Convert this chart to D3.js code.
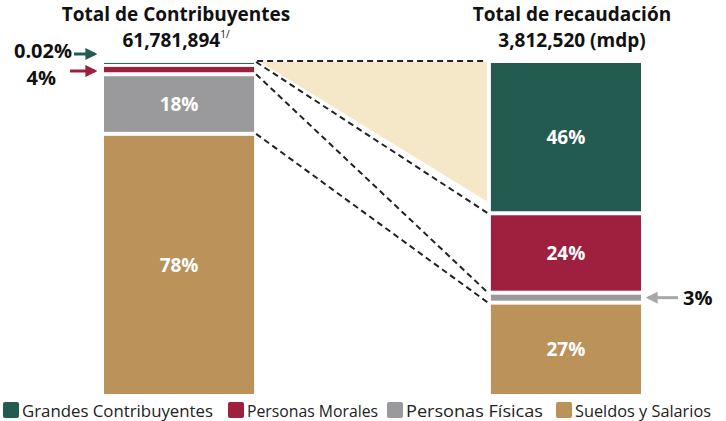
<!DOCTYPE html>
<html>
<head>
<meta charset="utf-8">
<script src="https://cdn.jsdelivr.net/npm/d3@7"></script>
<style>
  body { margin: 0; background: #fff; }
  svg { font-family: "Open Sans", sans-serif; }
</style>
</head>
<body>
<svg id="chart" width="726" height="421"></svg>
<script>
const categories = ['Grandes Contribuyentes', 'Personas Morales', 'Personas Físicas', 'Sueldos y Salarios'];
const contribuyentes = [0.02, 4, 18, 78];   // % del total de contribuyentes
const recaudacion = [46, 24, 3, 27];         // % del total de recaudación
const contribLabels = ['0.02%', '4%', '18%', '78%'];
const recaudLabels = ['46%', '24%', '3%', '27%'];
const colors = ['#245b50', '#9e1f3e', '#9a9a9c', '#bb925a'];

const svg = d3.select('#chart');
const gap = 4;

const x = d3.scaleBand()
    .domain(['contrib', 'recaud'])
    .range([104, 641])
    .paddingInner(0.612);
const y = d3.scaleLinear().domain([0, 100]).range([394, 63]);

// stack from top, each piece keeps at least 1px and a white gap under the one above
function stack(vals) {
    let top = d3.sum(vals);
    let prevBottom = -Infinity;
    return vals.map((v, i) => {
        const lo = top - v;
        const y0 = Math.max(y(top), prevBottom + gap - 1);
        const y1 = Math.max(y0 + 1, lo > 0 ? y(lo) - gap : y(lo));
        prevBottom = y1;
        const s = {i: i, hi: top, lo: lo, v: v, y0: y0, y1: y1};
        top = lo;
        return s;
    });
}
const left = stack(contribuyentes);
const right = stack(recaudacion);

const xl = x('contrib'), xr = x('recaud'), bw = x.bandwidth();

// beige triangle
svg.append('path')
    .attr('d', d3.line()([[xl + bw + 6, y(100) - 1], [xr - 4, y(100) - 1], [xr - 4, right[0].y1 - 10]]))
    .attr('fill', '#f5e8c9');

// connectors
const dash = svg.append('g')
    .attr('fill', 'none')
    .attr('stroke', '#222')
    .attr('stroke-width', 2)
    .attr('stroke-dasharray', '6,4');
dash.append('line')
    .attr('x1', xl + bw + 3).attr('y1', y(100) - 2)
    .attr('x2', xr - 4).attr('y2', y(100) - 2);
[0, 1, 2].forEach(i => {
    const yl = i === 0 ? y(100) - 1 : left[i].y1 + gap / 2;
    const yr = right[i].y1 + gap / 2;
    dash.append('line')
        .attr('x1', xl + bw + 2).attr('y1', yl)
        .attr('x2', xr - 3).attr('y2', yr);
});

function drawBar(segs, xpos, labels, skip) {
    const g = svg.append('g');
    g.selectAll('rect')
        .data(segs)
        .join('rect')
        .attr('x', xpos)
        .attr('width', bw)
        .attr('y', d => d.y0)
        .attr('height', d => d.y1 - d.y0)
        .attr('fill', d => colors[d.i]);
    g.selectAll('text')
        .data(segs.filter(d => !skip.includes(d.i)))
        .join('text')
        .attr('x', xpos + bw / 2)
        .attr('y', d => (d.y0 + d.y1) / 2)
        .attr('dy', '0.35em')
        .attr('text-anchor', 'middle')
        .attr('fill', '#fff')
        .attr('font-weight', 700)
        .attr('font-size', 19)
        .text(d => labels[d.i]);
}
drawBar(left, xl, contribLabels, [0, 1]);
drawBar(right, xr, recaudLabels, [2]);

// titles
const titles = svg.append('g')
    .attr('text-anchor', 'middle')
    .attr('font-weight', 700)
    .attr('font-size', 19)
    .attr('fill', '#111');
titles.append('text').attr('x', 176).attr('y', 21).text('Total de Contribuyentes');
const t2 = titles.append('text').attr('x', 176).attr('y', 47);
t2.append('tspan').text('61,781,894');
t2.append('tspan').attr('font-size', 10).attr('font-weight', 400).attr('dy', -9).text('1/');
titles.append('text').attr('x', 572).attr('y', 21).text('Total de recaudación');
titles.append('text').attr('x', 572).attr('y', 47).text('3,812,520 (mdp)');

// callouts with arrows
const defs = svg.append('defs');
function marker(id, color) {
    defs.append('marker')
        .attr('id', id)
        .attr('viewBox', '0 0 10 10')
        .attr('refX', 8).attr('refY', 5)
        .attr('markerWidth', 4).attr('markerHeight', 4)
        .attr('orient', 'auto')
        .append('path').attr('d', 'M0,0L10,5L0,10Z').attr('fill', color);
}
marker('mg', colors[0]);
marker('mr', colors[1]);
marker('mgr', '#a8a8a8');

function callout(label, tx, ty, anchor, x1, x2, ay, color, id) {
    svg.append('text')
        .attr('x', tx).attr('y', ty).attr('dy', '0.35em')
        .attr('text-anchor', anchor)
        .attr('font-weight', 700).attr('font-size', 20)
        .attr('fill', '#111')
        .text(label);
    svg.append('line')
        .attr('x1', x1).attr('x2', x2).attr('y1', ay).attr('y2', ay)
        .attr('stroke', color).attr('stroke-width', 3)
        .attr('marker-end', 'url(#' + id + ')');
}
callout(contribLabels[0], 72, 51, 'end', 74, 95, 54, colors[0], 'mg');
callout(contribLabels[1], 56, 78, 'end', 70, 95, 71, colors[1], 'mr');
const grayY = (right[2].y0 + right[2].y1) / 2;
callout(recaudLabels[2], 683, grayY, 'start', 678, 648, grayY, '#a8a8a8', 'mgr');

// legend
const legX = [3, 228, 387, 556];
const legW = [191, 131, 137, 136];
const leg = svg.append('g').selectAll('g')
    .data(categories)
    .join('g')
    .attr('transform', (d, i) => `translate(${legX[i]},402)`);
leg.append('rect')
    .attr('width', 16).attr('height', 16).attr('rx', 2)
    .attr('fill', (d, i) => colors[i]);
leg.append('text')
    .attr('x', 19).attr('y', 9).attr('dy', '0.35em')
    .attr('font-size', 16)
    .attr('textLength', (d, i) => legW[i])
    .attr('lengthAdjust', 'spacingAndGlyphs')
    .attr('fill', '#222')
    .text(d => d);
</script>
</body>
</html>
